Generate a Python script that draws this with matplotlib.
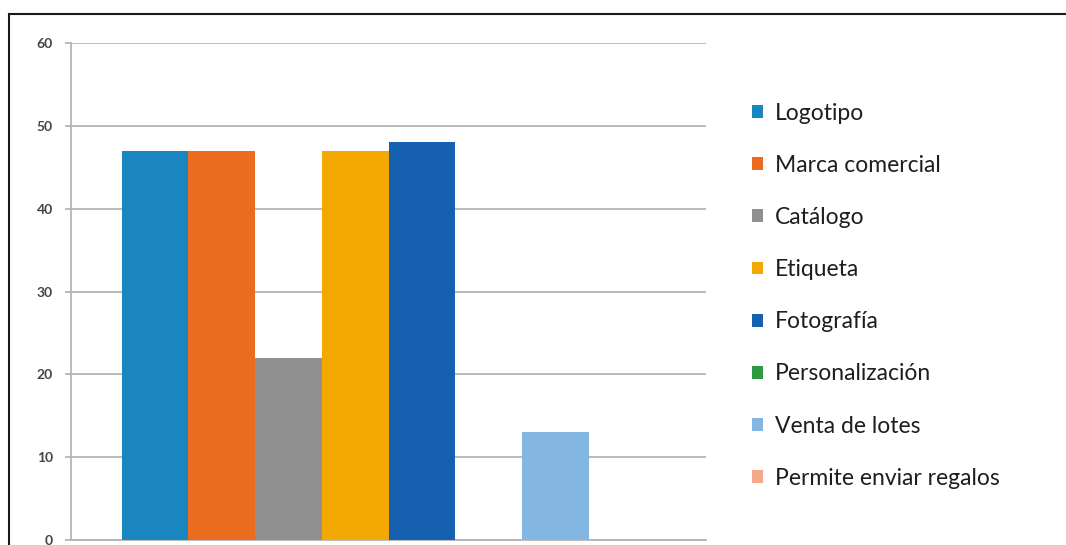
import matplotlib.pyplot as plt
from matplotlib.patches import Rectangle
import numpy as np

series = ["Logotipo", "Marca comercial", "Catálogo", "Etiqueta", "Fotografía",
          "Personalización", "Venta de lotes", "Permite enviar regalos"]
values = [47, 47, 22, 47, 48, 0, 13, 0]
colors = ["#1a86c0", "#ec6c1f", "#8f8f8f", "#f2a800", "#1560b0",
          "#2e9a40", "#84b6e2", "#f4a98b"]
yticks = [0, 10, 20, 30, 40, 50, 60]

plt.rcParams['font.family'] = ['Lato', 'DejaVu Sans']

fig = plt.figure(figsize=(10.66, 5.45), dpi=100)
ax = fig.add_axes([71/1066, 5/545, 635/1066, 497/545])

w = 0.84 / len(series)
x0 = -0.42 + w/2
for i, (name, v, c) in enumerate(zip(series, values, colors)):
    ax.bar(x0 + i*w, v, width=w, color=c, label=name, zorder=3)

ax.set_xlim(-0.5, 0.5)
ax.set_ylim(0, 60)
ax.set_yticks(yticks)
ax.set_xticks([])
ax.grid(axis='y', color='#b4b4b4', lw=1.3, zorder=0)
for s in ['top', 'right']:
    ax.spines[s].set_visible(False)
for s in ['left', 'bottom']:
    ax.spines[s].set_color('#b4b4b4')
    ax.spines[s].set_linewidth(1.3)
ax.tick_params(axis='y', length=4, width=1.3, color='#b4b4b4', labelsize=10,
               labelcolor='#444444', pad=9)
for t in ax.get_yticklabels():
    t.set_fontweight('bold')

leg = fig.legend(loc='upper left', bbox_to_anchor=(731/1066, 1 - 82/545),
                 frameon=False, fontsize=16.5, handlelength=0.48, handleheight=0.48,
                 handletextpad=0.55, labelspacing=1.36)
for t in leg.get_texts():
    t.set_color('#1e1e1e')

# outer frame around the chart
fig.patches.append(Rectangle((9/1066, -0.1), 1.2, 1 - 14/545 + 0.1,
                             transform=fig.transFigure, fill=False,
                             edgecolor='#1a1a1a', lw=1.5, clip_on=False))

fig.savefig('out.png', dpi=100)
